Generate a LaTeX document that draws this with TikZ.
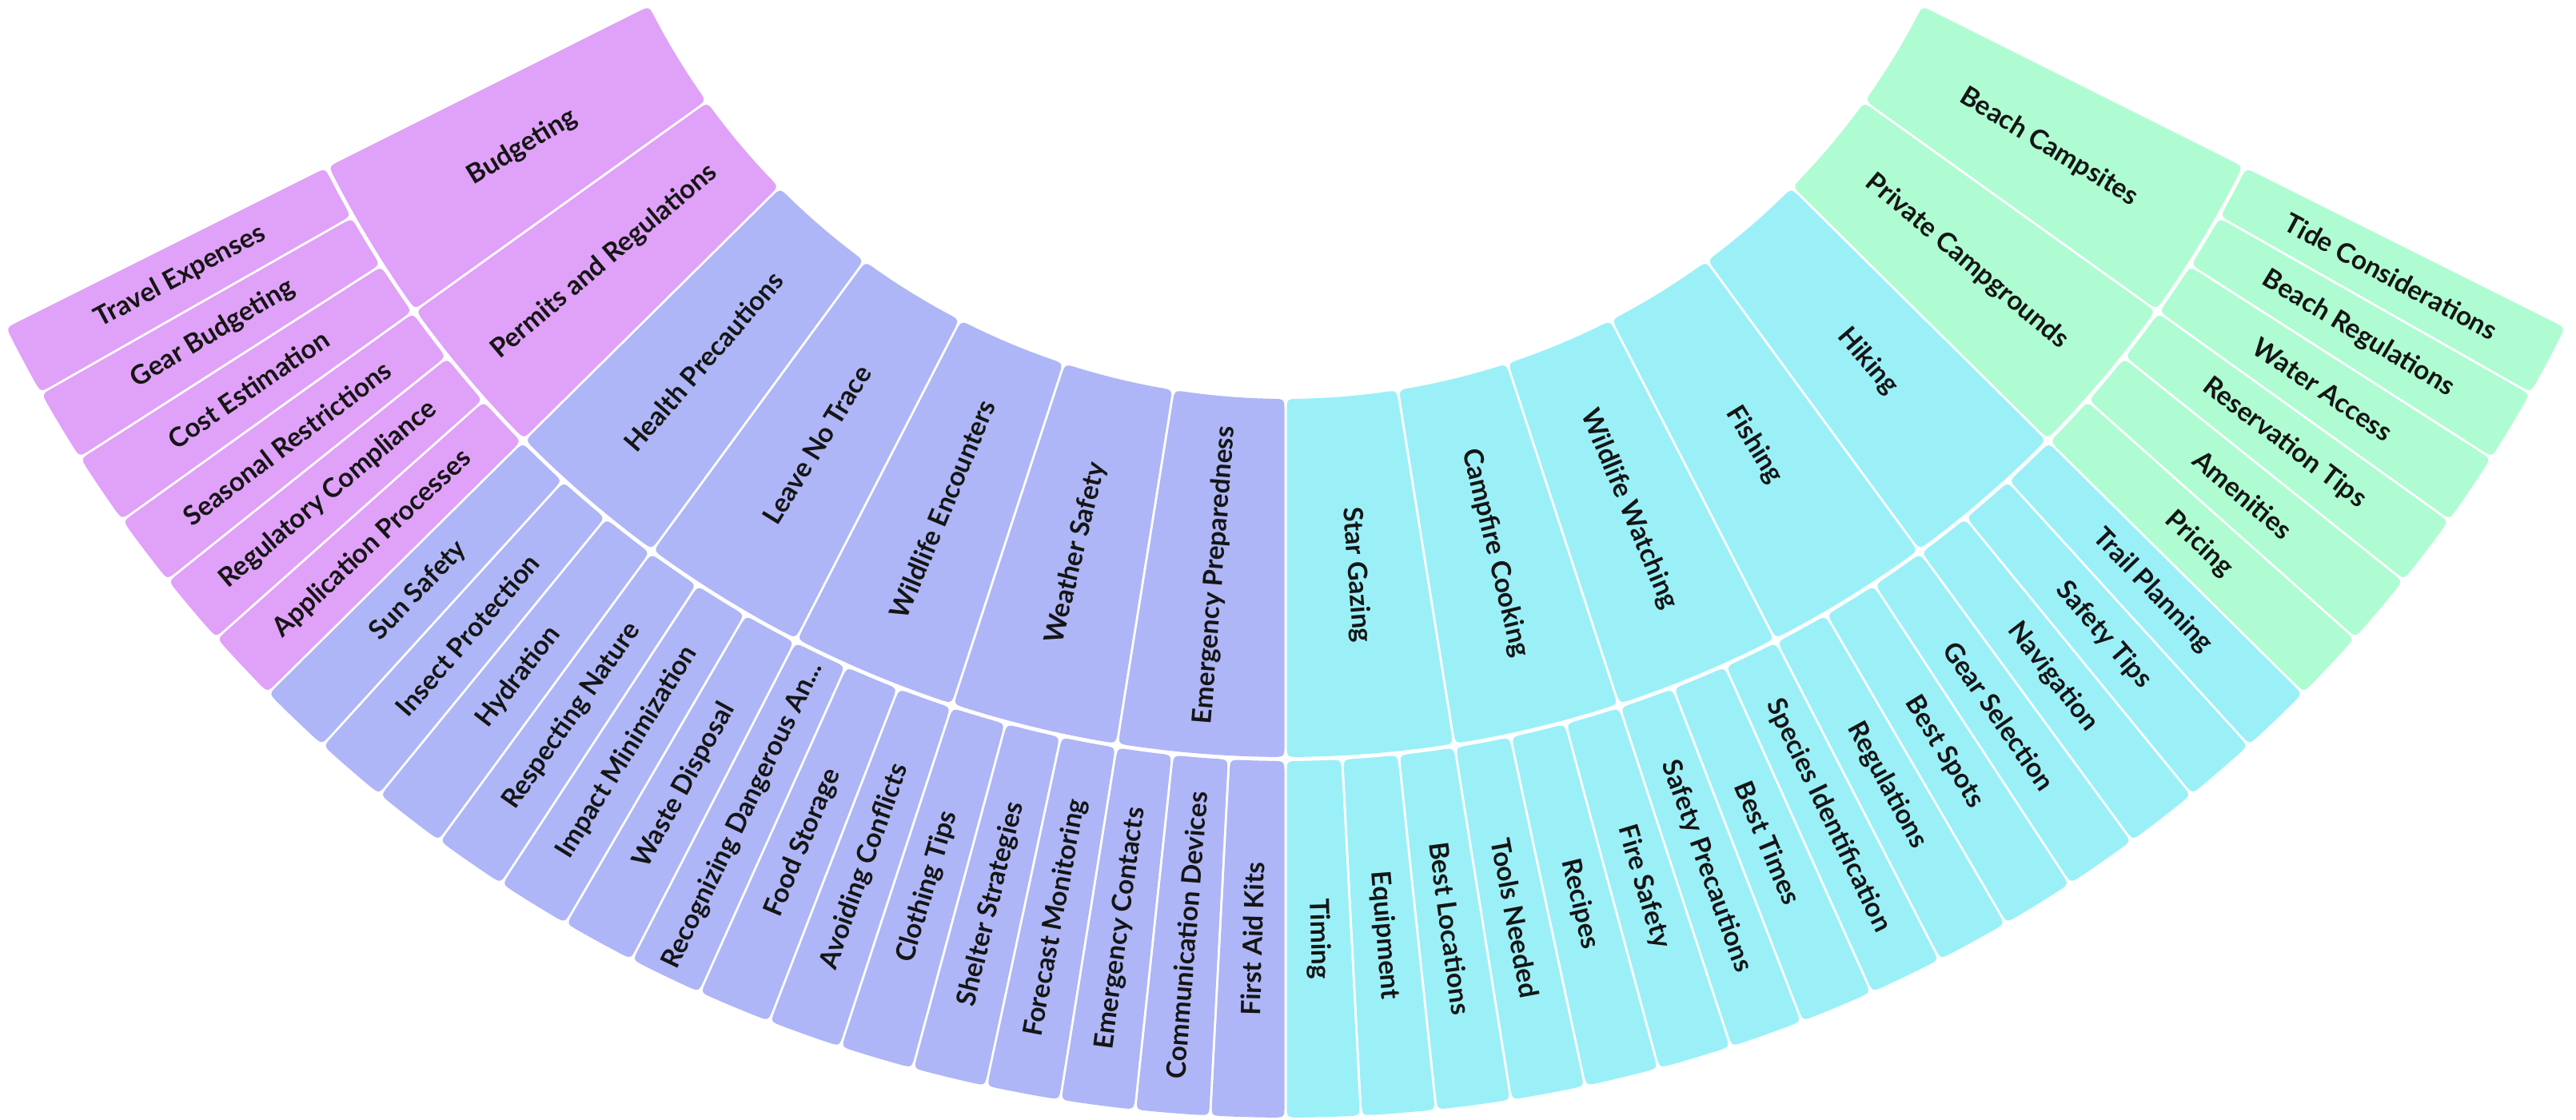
\documentclass[tikz,border=0pt]{standalone}
\usepackage{fontspec}
\setmainfont{Lato}
\usetikzlibrary{calc}
\definecolor{pinkc}{HTML}{E0A1F8}
\definecolor{bluec}{HTML}{AEB6F7}
\definecolor{cyanc}{HTML}{9BF0F8}
\definecolor{greenc}{HTML}{AFFCD2}
\definecolor{txt}{HTML}{151515}
\newcommand\recoglabel{Recognizing Dangerous An...}
\tikzset{lbl/.style={font=\bfseries\fontsize{9.5}{10}\selectfont, text=txt, inner sep=0pt}}
\newcommand\sunsect[7]{%
  \pgfmathsetmacro\sri{#4}%
  \pgfmathsetmacro\sro{#5}%
  \pgfmathsetmacro\sAi{#2+0.015/\sri*57.29578}%
  \pgfmathsetmacro\sBi{#3-0.015/\sri*57.29578}%
  \pgfmathsetmacro\sAo{#2+0.015/\sro*57.29578}%
  \pgfmathsetmacro\sBo{#3-0.015/\sro*57.29578}%
  \pgfmathsetmacro\sdi{0.16/\sri*57.29578}%
  \pgfmathsetmacro\sdo{0.16/\sro*57.29578}%
  \pgfmathsetmacro\sAid{\sAi+\sdi}%
  \pgfmathsetmacro\sBid{\sBi-\sdi}%
  \pgfmathsetmacro\sAod{\sAo+\sdo}%
  \pgfmathsetmacro\sBod{\sBo-\sdo}%
  \coordinate (q1) at (\sAi:\sri cm);
  \coordinate (q2) at (\sBi:\sri cm);
  \coordinate (q3) at (\sBo:\sro cm);
  \coordinate (q4) at (\sAo:\sro cm);
  \fill[#6] ($(q1)!0.16cm!(q4)$) .. controls (q1) .. (\sAid:\sri cm)
    arc[start angle=\sAid, end angle=\sBid, radius=\sri cm]
    .. controls (q2) .. ($(q2)!0.16cm!(q3)$) -- ($(q3)!0.16cm!(q2)$)
    .. controls (q3) .. (\sBod:\sro cm)
    arc[start angle=\sBod, end angle=\sAod, radius=\sro cm]
    .. controls (q4) .. ($(q4)!0.16cm!(q1)$) -- cycle;
  \pgfmathsetmacro\smid{(#2+#3)/2}%
  \pgfmathsetmacro\srm{(#4+#5)/2}%
  \pgfmathsetmacro\srot{\smid<270 ? \smid-180 : \smid}%
  \node[lbl, rotate=\srot] (#1) at (\smid:\srm cm) {#7};
}
\begin{document}
\begin{tikzpicture}
\useasboundingbox (0,0) rectangle (32.22,14.00);
\begin{scope}[shift={(16.08,17.92)}]
\foreach \lab/\col [count=\k from 0] in {
  Budgeting/pinkc, Permits and Regulations/pinkc,
  Health Precautions/bluec, Leave No Trace/bluec, Wildlife Encounters/bluec,
  Weather Safety/bluec, Emergency Preparedness/bluec,
  Star Gazing/cyanc, Campfire Cooking/cyanc, Wildlife Watching/cyanc,
  Fishing/cyanc, Hiking/cyanc,
  Private Campgrounds/greenc, Beach Campsites/greenc}{
  \pgfmathsetmacro\pa{206.57+\k*9.061429}
  \pgfmathsetmacro\pb{\pa+9.061429}
  \sunsect{p\k}{\pa}{\pb}{8.91}{13.39}{\col}{\lab}
}
\foreach \lab/\col [count=\j from 0] in {
  Travel Expenses/pinkc, Gear Budgeting/pinkc, Cost Estimation/pinkc,
  Seasonal Restrictions/pinkc, Regulatory Compliance/pinkc, Application Processes/pinkc,
  Sun Safety/bluec, Insect Protection/bluec, Hydration/bluec,
  Respecting Nature/bluec, Impact Minimization/bluec, Waste Disposal/bluec,
  \recoglabel/bluec, Food Storage/bluec, Avoiding Conflicts/bluec,
  Clothing Tips/bluec, Shelter Strategies/bluec, Forecast Monitoring/bluec,
  Emergency Contacts/bluec, Communication Devices/bluec, First Aid Kits/bluec,
  Timing/cyanc, Equipment/cyanc, Best Locations/cyanc,
  Tools Needed/cyanc, Recipes/cyanc, Fire Safety/cyanc,
  Safety Precautions/cyanc, Best Times/cyanc, Species Identification/cyanc,
  Regulations/cyanc, Best Spots/cyanc, Gear Selection/cyanc,
  Navigation/cyanc, Safety Tips/cyanc, Trail Planning/cyanc,
  Pricing/greenc, Amenities/greenc, Reservation Tips/greenc,
  Water Access/greenc, Beach Regulations/greenc, Tide Considerations/greenc}{
  \pgfmathsetmacro\ca{206.57+\j*3.020476}
  \pgfmathsetmacro\cb{\ca+3.020476}
  \sunsect{c\j}{\ca}{\cb}{13.44}{17.90}{\col}{\lab}
}
\end{scope}
\end{tikzpicture}
\end{document}
